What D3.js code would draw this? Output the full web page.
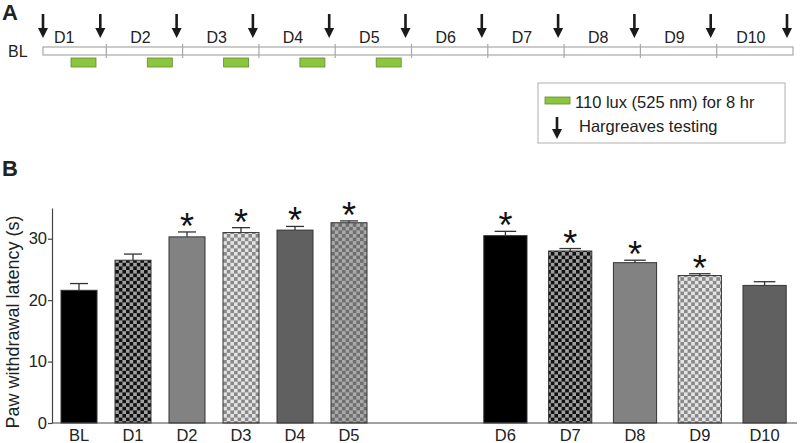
<!DOCTYPE html>
<html>
<head>
<meta charset="utf-8">
<script src="https://cdn.jsdelivr.net/npm/d3@7"></script>
<style>
  html, body { margin: 0; padding: 0; background: #fff; }
  svg { display: block; font-family: "Liberation Sans", Arial, sans-serif; }
</style>
</head>
<body>
<svg id="chart" width="800" height="443"></svg>
<script>
// ---------- DATA ----------
const categories = ["BL", "D1", "D2", "D3", "D4", "D5", "D6", "D7", "D8", "D9", "D10"];
const leftGroup = ["BL", "D1", "D2", "D3", "D4", "D5"];
const rightGroup = ["D6", "D7", "D8", "D9", "D10"];
const latency = [21.6, 26.5, 30.3, 31.0, 31.4, 32.6, 30.5, 28.0, 26.1, 24.0, 22.4];
const sem = [1.1, 1.0, 0.8, 0.8, 0.6, 0.3, 0.7, 0.4, 0.4, 0.3, 0.6];
const significant = [false, false, true, true, true, true, true, true, true, true, false];
const yTicks = [0, 10, 20, 30];
const yLabel = "Paw withdrawal latency (s)";

const timelineDays = ["D1", "D2", "D3", "D4", "D5", "D6", "D7", "D8", "D9", "D10"];
const lightDays = [1, 2, 3, 4, 5];
const legendLight = "110 lux (525 nm) for 8 hr";
const legendArrow = "Hargreaves testing";

// ---------- STYLES ----------
const fillStyle = {
  BL: "#000", D1: "url(#chkA)", D2: "#828282", D3: "url(#chkB)", D4: "#606060",
  D5: "url(#chkC)", D6: "#000", D7: "url(#chkA)", D8: "#828282", D9: "url(#chkB)", D10: "#606060"
};

const svg = d3.select("#chart");
const defs = svg.append("defs");
function checker(id, c1, c2, s) {
  const p = defs.append("pattern").attr("id", id).attr("patternUnits", "userSpaceOnUse")
    .attr("width", 2 * s).attr("height", 2 * s);
  p.append("rect").attr("width", 2 * s).attr("height", 2 * s).attr("fill", c1);
  p.append("rect").attr("width", s).attr("height", s).attr("fill", c2);
  p.append("rect").attr("x", s).attr("y", s).attr("width", s).attr("height", s).attr("fill", c2);
}
checker("chkA", "#111", "#a0a0a0", 3.6);
checker("chkB", "#e4e4e4", "#888", 3.6);
checker("chkC", "#aaa", "#6e6e6e", 3.6);

const dark = "#1a1a1a";
function arrow(g, x, y1, y2) {
  g.append("line").attr("x1", x).attr("x2", x).attr("y1", y1).attr("y2", y2 - 8)
    .attr("stroke", dark).attr("stroke-width", 2.6);
  g.append("path").attr("d", `M${x - 5},${y2 - 10} L${x + 5},${y2 - 10} L${x},${y2} Z`).attr("fill", dark);
}

// ---------- PANEL A ----------
const A = svg.append("g");
A.append("text").attr("x", 2).attr("y", 20).attr("font-size", 22).attr("font-weight", "bold")
  .attr("fill", "#222").text("A");

const tl = d3.scaleLinear().domain([0, 10]).range([30, 793]);
const tlStart = 43;
const tlTop = 47, tlH = 8;
A.append("rect").attr("x", tlStart).attr("y", tlTop).attr("width", tl(10) - tlStart).attr("height", tlH)
  .attr("fill", "#fff").attr("stroke", "#a8a8a8").attr("stroke-width", 1.2);
A.selectAll(".div").data(d3.range(1, 10)).join("line")
  .attr("x1", d => tl(d)).attr("x2", d => tl(d)).attr("y1", tlTop - 3).attr("y2", tlTop + tlH + 3)
  .attr("stroke", "#a8a8a8").attr("stroke-width", 1.2);
A.append("text").attr("x", 8).attr("y", 57).attr("font-size", 16).attr("fill", "#222").text("BL");
A.selectAll(".dl").data(timelineDays).join("text")
  .attr("x", (d, i) => (tl(i) + tl(i + 1)) / 2 - 4).attr("y", 43)
  .attr("text-anchor", "middle").attr("font-size", 16).attr("fill", "#222").text(d => d);
A.selectAll(".light").data(lightDays).join("rect")
  .attr("x", d => tl(d - 1) + 41).attr("y", 58).attr("width", 25).attr("height", 9)
  .attr("fill", "#8cc63f").attr("stroke", "#5f8a33").attr("stroke-width", 0.8);
arrow(A, tlStart, 14, 38);
d3.range(1, 11).forEach(i => arrow(A, tl(i) - 6, 14, 38));

// legend
A.append("rect").attr("x", 538).attr("y", 83).attr("width", 247).attr("height", 60)
  .attr("fill", "#fff").attr("stroke", "#b0b0b0").attr("stroke-width", 1);
A.append("rect").attr("x", 545).attr("y", 97).attr("width", 25).attr("height", 7)
  .attr("fill", "#8cc63f").attr("stroke", "#5f8a33").attr("stroke-width", 0.8);
A.append("text").attr("x", 575).attr("y", 108).attr("font-size", 16.5).attr("fill", "#222").text(legendLight);
arrow(A, 557, 117, 139);
A.append("text").attr("x", 579).attr("y", 132).attr("font-size", 16.5).attr("fill", "#222").text(legendArrow);

// ---------- PANEL B ----------
const B = svg.append("g");
B.append("text").attr("x", 2).attr("y", 176).attr("font-size", 22).attr("font-weight", "bold")
  .attr("fill", "#222").text("B");

const y = d3.scaleLinear().domain([0, 35]).range([423, 208]);
const xL = d3.scaleBand().domain(leftGroup).range([52, 376]).paddingInner(1 / 3).paddingOuter(1 / 6);
const xR = d3.scaleBand().domain(rightGroup).range([473, 797]).paddingInner(1 / 3).paddingOuter(1 / 6);
const xs = d => leftGroup.includes(d) ? xL : xR;

const data = categories.map((c, i) => ({ c, v: latency[i], e: sem[i], s: significant[i] }));

const bars = B.append("g");
data.forEach(d => {
  const sc = xs(d.c), bw = sc.bandwidth(), x0 = sc(d.c), cx = x0 + bw / 2;
  const capW = bw * 0.5;
  bars.append("line").attr("x1", cx).attr("x2", cx).attr("y1", y(d.v)).attr("y2", y(d.v + d.e))
    .attr("stroke", "#333").attr("stroke-width", 1.3);
  bars.append("line").attr("x1", cx - capW / 2).attr("x2", cx + capW / 2)
    .attr("y1", y(d.v + d.e)).attr("y2", y(d.v + d.e)).attr("stroke", "#333").attr("stroke-width", 1.3);
  bars.append("rect").attr("x", x0).attr("y", y(d.v)).attr("width", bw).attr("height", y(0) - y(d.v))
    .attr("fill", fillStyle[d.c]).attr("stroke", "#333").attr("stroke-width", 1);
  if (d.s) {
    bars.append("text").attr("x", cx).attr("y", y(d.v + d.e) + 7).attr("text-anchor", "middle")
      .attr("font-size", 36).attr("fill", "#111").text("*");
  }
});

// axes
const yAxis = B.append("g").attr("transform", "translate(52,0)")
  .call(d3.axisLeft(y).tickValues(yTicks).tickSize(4).tickSizeOuter(0).tickPadding(1));
yAxis.select(".domain").attr("stroke", "#444").attr("stroke-width", 1.2);
yAxis.selectAll(".tick line").attr("stroke", "#444").attr("stroke-width", 1.2);
yAxis.selectAll(".tick text").attr("font-size", 16.5).attr("fill", "#222")
  .attr("font-family", "'Liberation Sans', Arial, sans-serif");

B.append("line").attr("x1", 52).attr("x2", 797).attr("y1", y(0)).attr("y2", y(0))
  .attr("stroke", "#444").attr("stroke-width", 1.2);

B.selectAll(".xl").data(categories).join("text")
  .attr("x", d => xs(d)(d) + xs(d).bandwidth() / 2).attr("y", 441)
  .attr("text-anchor", "middle").attr("font-size", 16.5).attr("fill", "#222").text(d => d);

B.append("text").attr("transform", "translate(19,322) rotate(-90)").attr("text-anchor", "middle")
  .attr("font-size", 18).attr("fill", "#222").text(yLabel);
</script>
</body>
</html>
